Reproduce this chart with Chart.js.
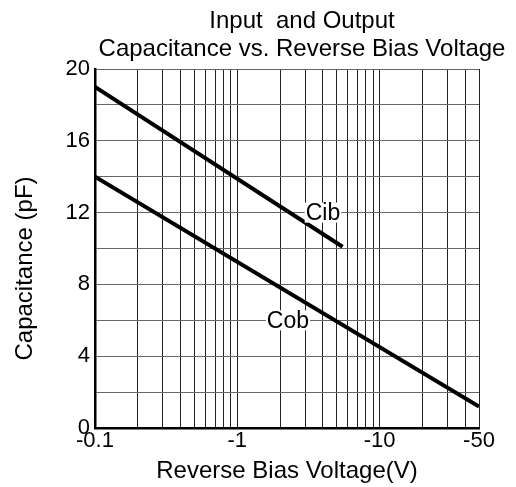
<!DOCTYPE html>
<html>
<head>
<meta charset="utf-8">
<script src="https://cdn.jsdelivr.net/npm/chart.js@4/dist/chart.umd.min.js"></script>
<style>
  body { margin: 0; background: #fff; }
  #wrap { width: 516px; height: 487px; }
</style>
</head>
<body>
<div id="wrap"><canvas id="myChart"></canvas></div>
<script>
const titleLines = ['Input  and Output', 'Capacitance vs. Reverse Bias Voltage'];

// reverse bias voltage (magnitude, V) and capacitance (pF)
const cibVoltage = [0.1, 5.5];
const cibCap = [19.0, 10.1];
const cobVoltage = [0.1, 50];
const cobCap = [14.0, 1.2];

// curve labels: [text, voltage, capacitance]
const curveLabels = [['Cib', 4.0, 12], ['Cob', 2.27, 6]];

const xGridValues = [0.1, 0.2, 0.3, 0.4, 0.5, 0.6, 0.7, 0.8, 0.9,
  1, 2, 3, 4, 5, 6, 7, 8, 9, 10, 20, 30, 40, 50];
const xTickValues = [0.1, 1, 10, 50];
const xTickLabels = ['-0.1', '-1', '-10', '-50'];
const yTickValues = [0, 4, 8, 12, 16, 20];

const FONT = "'Liberation Sans', Arial, sans-serif";

const textPlugin = {
  id: 'textPlugin',
  afterDatasetsDraw(chart) {
    const ctx = chart.ctx;
    const x = chart.scales.x, y = chart.scales.y;
    ctx.save();
    ctx.font = '23px ' + FONT;
    ctx.textAlign = 'center';
    ctx.textBaseline = 'middle';
    curveLabels.forEach(([txt, v, c]) => {
      const px = x.getPixelForValue(v), py = y.getPixelForValue(c);
      const w = ctx.measureText(txt).width;
      ctx.fillStyle = '#fff';
      ctx.fillRect(px - w / 2 - 1, py - 10, w + 2, 20);
      ctx.fillStyle = '#000';
      ctx.fillText(txt, px, py + 1);
    });
    // two line title, a bit right of the plot centre like the original
    ctx.font = '24px ' + FONT;
    const cx = (chart.chartArea.left + chart.chartArea.right) / 2 + 15;
    titleLines.forEach((t, i) => ctx.fillText(t, cx, 21 + i * 28.5));
    ctx.restore();
  }
};

const ctx = document.getElementById('myChart').getContext('2d');
const chart = new Chart(ctx, {
  type: 'line',
  data: {
    datasets: [
      {
        label: 'Cib',
        data: cibVoltage.map((v, i) => ({ x: v, y: cibCap[i] })),
        borderColor: '#000',
        borderWidth: 4,
        pointRadius: 0
      },
      {
        label: 'Cob',
        data: cobVoltage.map((v, i) => ({ x: v, y: cobCap[i] })),
        borderColor: '#000',
        borderWidth: 4,
        pointRadius: 0
      }
    ]
  },
  options: {
    responsive: true,
    maintainAspectRatio: false,
    animation: false,
    layout: { padding: { top: 69, right: 37, left: 0, bottom: 0 } },
    plugins: {
      legend: { display: false },
      tooltip: { enabled: false }
    },
    scales: {
      x: {
        type: 'logarithmic',
        min: 0.1,
        max: 50,
        afterBuildTicks: scale => {
          scale.ticks = xGridValues.map(v => ({ value: v }));
        },
        afterFit: scale => { scale.height = 59; },
        grid: { color: '#222', lineWidth: 1, drawTicks: false },
        border: { color: '#000', width: 2.5 },
        ticks: {
          autoSkip: false,
          maxRotation: 0,
          padding: 0,
          color: '#000',
          font: { family: FONT, size: 22 },
          callback: value => {
            const i = xTickValues.findIndex(t => Math.abs(t - value) < 1e-9);
            return i >= 0 ? xTickLabels[i] : '';
          }
        },
        title: {
          display: true,
          text: 'Reverse Bias Voltage(V)',
          color: '#000',
          font: { family: FONT, size: 24 },
          padding: { top: 0, bottom: 1 }
        }
      },
      y: {
        min: 0,
        max: 20,
        afterFit: scale => { scale.width = 95; },
        grid: { color: '#666', lineWidth: 1, drawTicks: false },
        border: { color: '#000', width: 2.5 },
        ticks: {
          stepSize: 2,
          padding: 5,
          color: '#000',
          font: { family: FONT, size: 22 },
          callback: value => yTickValues.includes(value) ? String(value) : ''
        },
        title: {
          display: true,
          // trailing spaces push the rotated label down, as in the original
          text: 'Capacitance (pF)      ',
          color: '#000',
          font: { family: FONT, size: 24 },
          padding: { top: 11, bottom: 0 }
        }
      }
    }
  },
  plugins: [textPlugin]
});
</script>
</body>
</html>
